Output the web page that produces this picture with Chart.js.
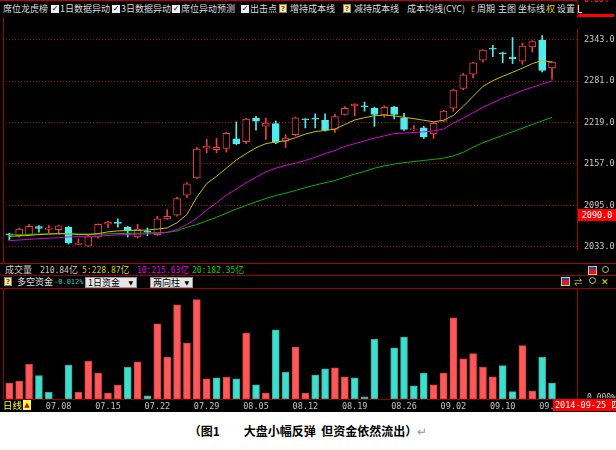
<!DOCTYPE html>
<html><head><meta charset="utf-8">
<script src="https://cdn.jsdelivr.net/npm/chart.js@4.4.1/dist/chart.umd.min.js"></script>
<style>
html,body{margin:0;padding:0;background:#fff;}
body{width:616px;height:450px;position:relative;overflow:hidden;}
#panel{position:absolute;left:0;top:0;width:616px;height:412px;background:#000;overflow:hidden;}
.t{position:absolute;white-space:nowrap;font-family:"Noto Sans CJK SC",sans-serif;font-size:9px;line-height:12px;color:#dcdcdc;}
.n{font-family:"DejaVu Sans Mono",monospace;font-size:8px;}
.hl{position:absolute;height:1px;background:#9a0000;}
.vl{position:absolute;width:1px;background:#9a0000;}
.cb{position:absolute;top:5px;width:8px;height:8px;background:#f0f0f0;font:bold 8px/8px "DejaVu Sans",sans-serif;color:#000;text-align:center;}
.q{position:absolute;width:8px;height:9px;background:#f4e9b0;border:1px solid #9a8a40;box-sizing:border-box;font:bold 7px/8px "DejaVu Sans",sans-serif;color:#805000;text-align:center;}
.dd{position:absolute;top:277px;height:11px;background:#e6e6e6;border:1px solid #999;box-sizing:border-box;font-family:"Noto Sans CJK SC",sans-serif;font-size:9px;line-height:9px;color:#000;padding-left:2px;}
.dd .ar{position:absolute;right:3px;top:1px;font-size:6px;line-height:8px;font-family:"DejaVu Sans",sans-serif;}
.win{position:absolute;width:7px;height:7px;border:1px solid #c8c890;background:linear-gradient(#2040c0 0 35%,#d02020 35% 100%);}
.mag{position:absolute;width:5px;height:5px;border:1px solid #b8d040;border-radius:50%;}
canvas{position:absolute;left:0;}
#cap{position:absolute;left:0;top:423px;width:616px;text-align:center;font-family:"Noto Sans CJK SC",sans-serif;font-weight:700;font-size:12px;line-height:16px;color:#000;white-space:nowrap;}
</style></head>
<body>
<div id="panel">
  <!-- toolbar -->
  <div class="hl" style="left:0;top:0;width:577px;background:#c00000"></div>
  <div class="t" style="left:3px;top:3px">席位龙虎榜</div>
  <div class="cb" style="left:51px">✓</div><div class="t" style="left:60px;top:3px">1日数据异动</div>
  <div class="cb" style="left:112px">✓</div><div class="t" style="left:121px;top:3px">3日数据异动</div>
  <div class="cb" style="left:172px">✓</div><div class="t" style="left:181px;top:3px">席位异动预测</div>
  <div class="cb" style="left:241px">✓</div><div class="t" style="left:250px;top:3px">出击点</div>
  <div class="q" style="left:279px;top:4px">?</div><div class="t" style="left:290px;top:3px">增持成本线</div>
  <div class="q" style="left:343px;top:4px">?</div><div class="t" style="left:354px;top:3px">减持成本线</div>
  <div class="t" style="left:407px;top:3px">成本均线(CYC)</div>
  <div class="t" style="left:471px;top:3px;color:#e0c000;font-size:7px">E</div>
  <div class="t" style="left:477px;top:3px">周期</div>
  <div class="t" style="left:498px;top:3px">主图</div>
  <div class="t" style="left:518px;top:3px">坐标线</div>
  <div class="t" style="left:546px;top:3px;color:#e0d000">权</div>
  <div class="t" style="left:557px;top:3px">设置</div>
  <div class="vl" style="left:577px;top:0;height:18px"></div>
  <div style="position:absolute;left:578px;top:5px;width:3px;height:7px;border-left:1px solid #ddd;border-bottom:1px solid #ddd"></div>
  <div class="t n" style="left:584px;top:-6px;color:#ff2020">0.00%</div>
  <div style="position:absolute;left:578px;top:14px;width:36px;height:3px;background:#ff0000"></div>

  <!-- frame lines -->
  <div class="vl" style="left:3px;top:17px;height:246px"></div>
  <div class="hl" style="left:0;top:263px;width:616px;background:#b00000"></div>
  <div class="hl" style="left:0;top:275px;width:616px"></div>
  <div class="hl" style="left:0;top:288px;width:616px"></div>
  <div class="vl" style="left:3px;top:288px;height:111px"></div>

  <!-- price marker -->
  <div class="t n" style="left:578px;top:209px;width:38px;height:12px;line-height:12px;background:#ff0000;color:#fff;text-align:center;z-index:5;font-size:8.5px">2090.0</div>

  <!-- volume info row -->
  <div class="t" style="left:5px;top:264px;color:#c8c8c8">成交量</div>
  <div class="t" style="left:40px;top:264px;color:#c8c8c8"><span class="n">210.84</span>亿</div>
  <div class="t" style="left:82px;top:264px;color:#d0d000"><span class="n">5:228.87</span>亿</div>
  <div class="t" style="left:137px;top:264px;color:#e000e0"><span class="n">10:215.63</span>亿</div>
  <div class="t" style="left:192px;top:264px;color:#00d000"><span class="n">20:182.35</span>亿</div>
  <div class="win" style="left:588px;top:266px"></div>
  <div class="mag" style="left:602px;top:266px"></div>

  <!-- capital flow info row -->
  <div class="q" style="left:4px;top:277px">?</div>
  <div class="t" style="left:17px;top:276px;color:#e0e0e0">多空资金</div>
  <div class="t n" style="left:54px;top:276px;color:#20c8c8;font-size:7px">-0.012%</div>
  <div class="dd" style="left:85px;width:52px">1日资金<span class="ar">▼</span></div>
  <div class="dd" style="left:150px;width:43px">两向柱<span class="ar">▼</span></div>
  <div class="win" style="left:561px;top:277px"></div>
  <div class="t" style="left:574px;top:276px;color:#c8d040;font-size:8px">⇄</div>
  <div class="mag" style="left:589px;top:277px"></div>
  <div class="t" style="left:601px;top:276px;color:#e0e000;font-size:9px;font-family:'DejaVu Sans'">✕</div>

  <canvas id="main" width="616" height="246" style="top:17px"></canvas>
  <canvas id="flow" width="616" height="124" style="top:288px"></canvas>

  <!-- lower axis decorations -->
  <div style="position:absolute;left:587px;top:393px;width:29px;height:5px;overflow:hidden"><div class="t n" style="left:0;top:-1px;color:#c8c8c8">0.000%</div></div>
  <div class="t" style="left:3px;top:399px;color:#ffff00;font-size:9.5px">日线</div>
  <div style="position:absolute;left:23px;top:400px;width:8px;height:10px;background:#ffff40;color:#d00000;font:7px/10px 'DejaVu Sans',sans-serif;text-align:center">▲</div>
  <div class="t n" style="left:553px;top:399px;width:63px;height:12px;line-height:12px;background:#ff0000;color:#fff;padding-left:2px;z-index:5;font-size:8.5px">2014-09-25 <span style="font-family:'Noto Sans CJK SC';font-size:9px">四</span></div>
</div>
<div id="cap">（图1　　大盘小幅反弹&nbsp;&nbsp;但资金依然流出）<span style="color:#999;font-weight:400">↵</span></div>

<script>
// ---- data ----
const priceTicks = [2033, 2095, 2157, 2219, 2281, 2343];
const tickLabels = ['07.08','07.15','07.22','07.29','08.05','08.12','08.19','08.26','09.02','09.10','09.17'];
const tickIndex  = [5,10,15,20,25,30,35,40,45,50,55];

const open  = [2052.5,2049.6,2051.3,2063.2,2059.1,2058.6,2062.2,2036.4,2034.1,2047.7,2066.7,2069,2062.6,2047.7,2056,2051.3,2074.9,2080.3,2110.2,2136.1,2180.5,2178.2,2180.1,2194.5,2190.4,2225.4,2213.6,2217.2,2191,2200.9,2224,2225,2222.3,2208.7,2231.2,2244,2243,2240.3,2230.4,2241.7,2225.4,2208,2210.8,2201.9,2220.9,2240.3,2269.8,2291.1,2312,2329,2322,2316.9,2310.6,2331.9,2342.3,2300.6];
const high  = [2053,2061.3,2066.7,2064.9,2064.9,2065.5,2063.6,2045,2051.3,2067.5,2071,2074.9,2063.5,2066.7,2061.3,2078.5,2088.5,2107,2129,2181.5,2194.1,2195,2204,2219.9,2225,2228,2225.4,2221.3,2200.9,2227,2224.5,2231.8,2231.8,2231.3,2242.7,2247,2249.5,2242,2244,2243,2232.7,2214.5,2213.1,2219,2237.2,2269,2292.4,2309,2328,2334.2,2324.2,2346,2337.8,2341,2349.1,2310];
const low   = [2043,2047.7,2050.5,2055,2053.7,2052.3,2037,2036,2033.5,2045.9,2061.3,2062.2,2047.7,2046,2049.6,2050,2074,2079,2107,2135,2173.7,2173.7,2174.7,2186,2187.3,2207.3,2193.7,2187.3,2181.5,2199,2210.8,2210.8,2206,2204,2230,2229,2235.9,2213.1,2226.7,2224.4,2207,2206.3,2195,2195,2220,2235.9,2268,2285.6,2309.3,2317.4,2308.3,2307,2306,2324.2,2294.7,2283.4];
const close = [2050.6,2059.5,2063.6,2060.5,2061.3,2064.5,2038.7,2038.7,2049.6,2066.7,2070,2068,2056.8,2059.5,2055,2074.9,2078.5,2105.3,2127.1,2179.2,2183.6,2181.9,2202.7,2186.9,2224,2220.9,2218.2,2189.1,2195.5,2225.8,2223,2224,2207.3,2227.7,2240.3,2246.2,2242.5,2231.2,2241.7,2231.2,2208.7,2209.5,2197.2,2217.6,2235.9,2267.5,2290.2,2308.3,2327.4,2328.5,2321.5,2314.2,2333.2,2340,2297,2309.3];

const ma5  = [2048.6,2049.3,2050.0,2051.3,2052.0,2052.7,2052.7,2051.3,2051.3,2052.7,2055.4,2056.8,2057.5,2057.5,2058.1,2059.5,2061.3,2069.0,2081.3,2107.1,2127.5,2138.4,2150.6,2162.8,2172.4,2181.2,2187.3,2190.0,2191.4,2196.2,2201.6,2205.4,2207.0,2209.1,2215.9,2222.7,2226.1,2229.1,2230.1,2228.8,2226.7,2224.7,2222.3,2219.9,2222.3,2229.5,2243.1,2258.0,2273.0,2281.5,2288.0,2294.0,2300.2,2307.0,2311.7,2309.3];
const ma10 = [2042.2,2043.2,2044.1,2045.2,2045.9,2046.6,2047.9,2048.2,2047.9,2049.0,2050.0,2050.9,2051.3,2051.8,2052.3,2052.7,2054.5,2058.8,2066.3,2075.8,2088.1,2098.9,2110.5,2119.3,2128.8,2137.0,2145.2,2150.6,2154.7,2158.1,2162.2,2166.9,2172.4,2177.1,2183.2,2187.3,2191.4,2195.5,2198.9,2202.3,2203.2,2204.0,2205.0,2206.3,2209.1,2217.9,2225.4,2233.5,2241.7,2248.5,2255.3,2260.7,2266.9,2271.6,2276.6,2281.1];
const ma20 = [2050.7,2051.3,2051.8,2052.0,2052.3,2052.3,2052.3,2052.3,2052.0,2052.0,2052.3,2052.7,2053.1,2053.4,2053.7,2054.1,2054.7,2056.8,2062.2,2066.3,2071.7,2077.2,2083.3,2089.4,2094.9,2100.3,2105.1,2109.8,2113.2,2117.3,2121.4,2125.4,2128.8,2132.2,2137.0,2141.8,2145.8,2150.6,2154.0,2156.7,2158.8,2160.5,2162.2,2163.8,2165.6,2169.0,2174.4,2181.9,2188.7,2194.1,2199.6,2205.0,2210.4,2215.9,2221.3,2226.7];

// daily capital flow (%), positive = inflow (red), negative = outflow (cyan)
const flow = [0.0120,0.0135,0.0260,-0.0175,-0.0050,0,-0.0255,0.0050,0.0282,0.0195,0.0045,0.0105,-0.0237,0.0278,-0.0023,0.0563,0.0312,0.0707,0.0420,0.0745,0.0152,-0.0158,0.0162,-0.0152,0.0492,-0.0107,0.0045,-0.0518,-0.0200,0.0390,0.0045,-0.0180,-0.0227,0.0233,0.0167,-0.0158,-0.0017,-0.0447,0,-0.0383,-0.0465,-0.0098,-0.0195,0.0107,0.0195,0.0608,0.0302,0.0340,0.0237,0.0167,-0.0250,-0.0055,0.0400,0.0060,-0.0312,-0.0120];

// ---- styles ----
const RED = '#f03c3c', CYAN = '#50ecec';
const FRED = '#ff5858', FCYAN = '#40dccc';
const XMIN = -0.64, XMAX = 57.53;
const idx = open.map((_, i) => i);
const up = idx.map(i => close[i] >= open[i]);

Chart.defaults.animation = false;
Chart.defaults.plugins.legend.display = false;
Chart.defaults.plugins.tooltip.enabled = false;

const line = (arr, col) => ({type:'line', data: idx.map(i => ({x:i, y:arr[i]})), borderColor: col, borderWidth: 1, pointRadius: 0, tension: 0, order: 0});

new Chart(document.getElementById('main'), {
  type: 'bar',
  data: { datasets: [
    line(ma5, '#c8c000'),
    line(ma10, '#d800d8'),
    line(ma20, '#00b400'),
    { type:'bar', data: idx.map(i => ({x:i, y:[open[i], close[i]]})),
      backgroundColor: idx.map(i => up[i] ? '#000000' : CYAN),
      borderColor: idx.map(i => up[i] ? RED : CYAN),
      borderWidth: 1, borderSkipped: false, barThickness: 7, grouped: false, minBarLength: 1, order: 1 },
    { type:'bar', data: idx.map(i => ({x:i, y:[low[i], high[i]]})),
      backgroundColor: idx.map(i => up[i] ? RED : CYAN),
      barThickness: 1, grouped: false, order: 2 }
  ]},
  options: {
    responsive: false, devicePixelRatio: 1,
    layout: { padding: { left: 3, right: 0, top: 1, bottom: 1 } },
    scales: {
      x: { type:'linear', min: XMIN, max: XMAX, offset: false, display: false },
      y: { type:'linear', position:'right', min: 2026.88, max: 2358.64,
        afterBuildTicks: s => { s.ticks = priceTicks.map(v => ({value: v})); },
        afterFit: s => { s.width = 39; },
        ticks: { color:'#c8c8c8', font:{ family:'DejaVu Sans Mono', size: 8.5 }, padding: 7, autoSkip:false,
                 callback: v => Number(v).toFixed(1) },
        grid: { color:'#a00000', lineWidth: 1, drawTicks: false },
        border: { display: true, color:'#a00000', width: 1, dash: [1, 2] }
      }
    }
  }
});

new Chart(document.getElementById('flow'), {
  type: 'bar',
  data: { datasets: [
    { data: idx.map(i => ({x:i, y: Math.abs(flow[i])})),
      backgroundColor: idx.map(i => flow[i] >= 0 ? FRED : FCYAN),
      borderColor: idx.map(i => flow[i] >= 0 ? '#d84040' : '#28b0a0'),
      borderWidth: 1, borderSkipped: false, barThickness: 7, grouped: false }
  ]},
  options: {
    responsive: false, devicePixelRatio: 1,
    layout: { padding: { left: 3, right: 0, top: 1, bottom: 0 } },
    scales: {
      x: { type:'linear', min: XMIN, max: XMAX, offset: false, position:'bottom',
        afterBuildTicks: s => { s.ticks = tickIndex.map(v => ({value: v})); },
        afterFit: s => { s.height = 13; },
        ticks: { color:'#c0c0c0', font:{ family:'DejaVu Sans Mono', size: 8.5 }, padding: 3, maxRotation: 0, autoSkip: false,
                 callback: (v, i) => tickLabels[i] },
        grid: { display: false, drawTicks: false },
        border: { display: true, color:'#8c0000' }
      },
      y: { position:'right', min: 0, max: 0.0825,
        afterFit: s => { s.width = 39; },
        ticks: { display: false },
        grid: { display: false, drawTicks: false },
        border: { display: true, color:'#a00000' }
      }
    }
  }
});
</script>
</body></html>
